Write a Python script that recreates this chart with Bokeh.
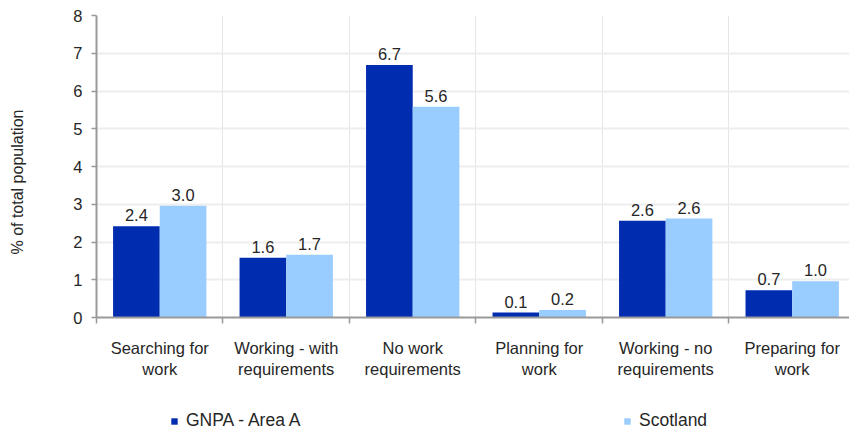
import numpy as np
from bokeh.plotting import figure
from bokeh.layouts import column
from bokeh.models import (Range1d, FixedTicker, ColumnDataSource, Legend, LegendItem)
from bokeh.core.properties import value
from bokeh.embed import file_html
from bokeh.resources import INLINE

# Benefit conditionality groups, share of total population (%)
categories = ["Searching for\nwork", "Working - with\nrequirements", "No work\nrequirements",
              "Planning for\nwork", "Working - no\nrequirements", "Preparing for\nwork"]
gnpa_area_a = [2.42, 1.58, 6.69, 0.13, 2.56, 0.72]
scotland = [2.96, 1.66, 5.58, 0.20, 2.62, 0.96]
series_names = ["GNPA - Area A", "Scotland"]
y_ticks = [0, 1, 2, 3, 4, 5, 6, 7, 8]
y_title = "% of total population"

DARK = "#002db0"
LIGHT = "#99ccff"
FONT = "Liberation Sans"
TXT = "#262626"
FS = "16.5px"

n = len(categories)
idx = np.arange(n)
centers = idx + 0.5
bar_w = 0.369

p = figure(width=849, height=400, output_backend="svg", toolbar_location=None,
           x_range=Range1d(0, 5.953), y_range=Range1d(0, 8),
           min_border_left=96, min_border_right=0, min_border_top=15, min_border_bottom=83)
p.outline_line_color = None

src = ColumnDataSource(dict(
    xd=centers - bar_w / 2, xl=centers + bar_w / 2,
    gnpa=gnpa_area_a, scot=scotland,
    gnpa_lbl=[f"{v:.1f}" for v in gnpa_area_a],
    scot_lbl=[f"{v:.1f}" for v in scotland],
))

bar_style = dict(width=bar_w, source=src, line_color=None)
p.vbar(x="xd", top="gnpa", fill_color=DARK, **bar_style)
p.vbar(x="xl", top="scot", fill_color=LIGHT, **bar_style)

for xcol, col, lbl in (("xd", "gnpa", "gnpa_lbl"), ("xl", "scot", "scot_lbl")):
    p.text(x=xcol, y=col, text=lbl, source=src, text_align="center", text_baseline="bottom",
           y_offset=-5, text_font=value(FONT), text_font_size=FS, text_color=TXT)

# grid
p.ygrid.ticker = FixedTicker(ticks=y_ticks)
p.ygrid.grid_line_color = "#eeeeee"
p.ygrid.grid_line_width = 2
p.xgrid.ticker = FixedTicker(ticks=list(range(n + 1)))
p.xgrid.grid_line_color = "#e6e6e6"
p.xgrid.grid_line_width = 1

# x axis: category names at centres, tick marks at category boundaries
xa = p.xaxis[0]
xa.ticker = FixedTicker(ticks=list(centers), minor_ticks=list(range(n + 1)))
xa.major_label_overrides = {float(c): lab for c, lab in zip(centers, categories)}
xa.major_tick_out = 0
xa.major_tick_in = 0
xa.minor_tick_out = 6
xa.minor_tick_in = 0
xa.minor_tick_line_color = "#999999"
xa.minor_tick_line_width = 1.5
xa.axis_line_color = "#999999"
xa.axis_line_width = 2
xa.major_label_standoff = 15
xa.major_label_text_font = FONT
xa.major_label_text_font_size = FS
xa.major_label_text_color = TXT

ya = p.yaxis[0]
ya.ticker = FixedTicker(ticks=y_ticks)
ya.major_tick_out = 5
ya.major_tick_in = 0
ya.minor_tick_line_color = None
ya.major_tick_line_color = "#999999"
ya.major_tick_line_width = 1.5
ya.axis_line_color = "#999999"
ya.axis_line_width = 2
ya.major_label_standoff = 9
ya.major_label_text_font = FONT
ya.major_label_text_font_size = FS
ya.major_label_text_color = TXT
# trailing no-break spaces push the centred title a little below the frame's middle
ya.axis_label = y_title + "\u00a0" * 7
ya.axis_label_standoff = 44
ya.axis_label_text_font = FONT
ya.axis_label_text_font_size = "16px"
ya.axis_label_text_font_style = "normal"
ya.axis_label_text_color = TXT

# legend row: swatches come from hidden copies of the two bar series
lg_fig = figure(width=849, height=32, output_backend="svg", toolbar_location=None,
                x_range=Range1d(0, 1), y_range=Range1d(0, 1),
                min_border=0, x_axis_type=None, y_axis_type=None)
lg_fig.outline_line_color = None
lg_fig.grid.visible = False
swatches = [lg_fig.vbar(x=xc, top=col, fill_color=c, visible=False, **bar_style)
            for xc, col, c in (("xd", "gnpa", DARK), ("xl", "scot", LIGHT))]

for name, rend, loc in zip(series_names, swatches, [(74, 1), (527, 1)]):
    lg = Legend(items=[LegendItem(label=name, renderers=[rend])], location=loc,
                orientation="horizontal", glyph_width=8, glyph_height=8, label_standoff=8,
                padding=0, margin=0, border_line_color=None, background_fill_alpha=0,
                inactive_fill_alpha=0, click_policy="none",
                label_text_font=FONT, label_text_font_size="17.5px", label_text_color=TXT)
    lg_fig.add_layout(lg)

open("out.html", "w").write(file_html(column(p, lg_fig, spacing=0), INLINE))
